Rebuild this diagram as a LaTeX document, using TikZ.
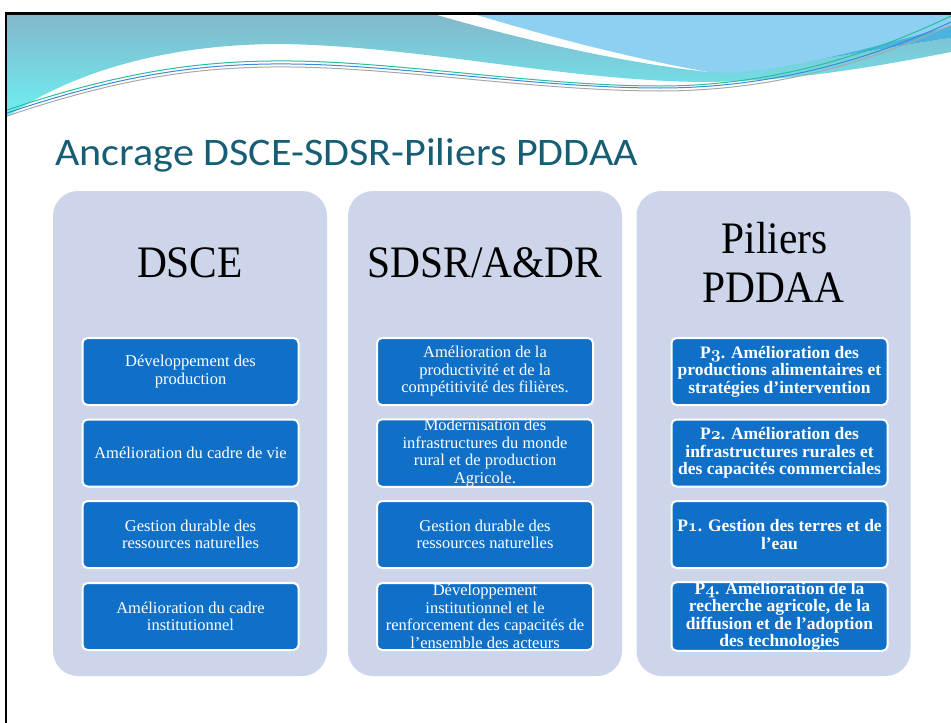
\documentclass[tikz,border=0pt]{standalone}
\usepackage{fontspec}
\setmainfont{Liberation Serif}
\newfontfamily\titlefont{Carlito}[FakeStretch=1.08]
\newfontfamily\hdrfont{Liberation Serif}[FakeStretch=0.92]
\newcommand{\osn}[1]{\ensuremath{\mathnormal{#1}}}
\definecolor{colfill}{HTML}{CDD5EA}
\definecolor{boxblue}{HTML}{1070C8}
\definecolor{titlecol}{HTML}{175E74}
\definecolor{tealtop}{HTML}{82B8CB}
\definecolor{tealbot}{HTML}{6DEFF2}
\definecolor{lightblue}{HTML}{8DD0F2}
\definecolor{midblue}{HTML}{4AB4E0}
\definecolor{wgreen}{HTML}{26C09A}
\definecolor{wblue}{HTML}{3C8AD6}
\definecolor{wgrey}{HTML}{A8A8A8}
\tikzset{
  colbox/.style={fill=colfill, rounded corners=25pt, minimum width=274pt, minimum height=485pt, inner sep=0pt},
  itembox/.style={draw=white, line width=2pt, fill=boxblue, rounded corners=5pt,
    minimum width=216pt, minimum height=67pt, inner sep=0pt, text=white, align=center,
    font=\fontsize{16.5}{17.5}\selectfont},
  pbox/.style={itembox, font=\fontsize{17.5}{17.5}\selectfont\bfseries\boldmath},
  hdr/.style={font=\hdrfont\fontsize{45}{49}\selectfont, inner sep=0pt, anchor=base},
  wline/.style={line width=1pt}
}
\begin{document}
\begin{tikzpicture}[x=1pt,y=-1pt]
\fill[white] (0,0) rectangle (951,723);
\useasboundingbox (0,0) rectangle (951,723);

% wave header
\shade[top color=tealtop, bottom color=tealbot]
  (7,15) -- (437,15) .. controls (540,45) and (640,65) .. (709,72)
  .. controls (800,66) and (880,48) .. (951,38) -- (951,52)
  .. controls (860,70) and (780,82) .. (700,82)
  .. controls (560,80) and (420,46) .. (281,44)
  .. controls (150,44) and (60,80) .. (7,117) -- cycle;
\fill[midblue] (709,72) .. controls (800,66) and (880,48) .. (951,38) -- (951,15) -- (760,15) -- cycle;
\fill[lightblue] (477,15) -- (951,15) -- (951,26)
  .. controls (880,45) and (800,68) .. (730,73) -- (709,72)
  .. controls (640,60) and (560,40) .. (477,15) -- cycle;
\draw[wline, wgreen] (7,110) .. controls (120,72) and (200,60) .. (291,61)
  .. controls (400,62) and (540,86) .. (660,86) .. controls (780,86) and (880,50) .. (951,16);
\draw[wline, wblue] (7,113) .. controls (120,75) and (200,63) .. (291,64)
  .. controls (400,65) and (540,88) .. (660,88) .. controls (780,88) and (880,55) .. (951,22);
\draw[wline, wgrey] (7,116) .. controls (120,78) and (200,66) .. (291,67)
  .. controls (400,68) and (540,91) .. (660,91) .. controls (780,91) and (880,58) .. (951,25);

% border
\draw[line width=2.5pt] (6.2,723) -- (6.2,13.7) -- (951,13.7);

% title
\node[anchor=base west, inner sep=0pt, text=titlecol, font=\titlefont\fontsize{39}{44}\selectfont]
  (title) at (55,165) {Ancrage DSCE-SDSR-Piliers PDDAA};

% columns
\node[colbox] (c1) at (190,433.5) {};
\node[colbox] (c2) at (485,433.5) {};
\node[colbox] (c3) at (773.5,433.5) {};

% headers
\node[hdr] (h1) at (190,277) {DSCE};
\node[hdr] (h2) at (485,277) {SDSR/A\&DR};
\node[hdr] (h3a) at (774.5,253) {Piliers};
\node[hdr] (h3b) at (773.5,302) {PDDAA};

% column 1
\node[itembox] (a1) at (190.5,371.5) {Développement des\\production};
\node[itembox] (a2) at (190.5,453) {Amélioration du cadre de vie};
\node[itembox] (a3) at (190.5,534.5) {Gestion durable des\\ressources naturelles};
\node[itembox] (a4) at (190.5,616.5) {Amélioration du cadre\\institutionnel};

% column 2
\node[itembox] (b1) at (485,371.5) {Amélioration de la\\productivité et de la\\compétitivité des filières.};
\node[itembox] (b2) at (485,453) {Modernisation des\\infrastructures du monde\\rural et de production\\Agricole.};
\node[itembox] (b3) at (485,534.5) {Gestion durable des\\ressources naturelles};
\node[itembox] (b4) at (485,616.5) {Développement\\institutionnel et le\\renforcement des capacités de\\l’ensemble des acteurs};

% column 3
\node[pbox] (p3) at (779.5,371.5) {P\osn{3}. Amélioration des\\productions alimentaires et\\stratégies d’intervention};
\node[pbox] (p2) at (779.5,453) {P\osn{2}. Amélioration des\\infrastructures rurales et\\des capacités commerciales};
\node[pbox] (p1) at (779.5,534.5) {P\osn{1}. Gestion des terres et de\\l’eau};
\node[pbox] (p4) at (779.5,616.5) {P\osn{4}. Amélioration de la\\recherche agricole, de la\\diffusion et de l’adoption\\des technologies};
\end{tikzpicture}
\end{document}
